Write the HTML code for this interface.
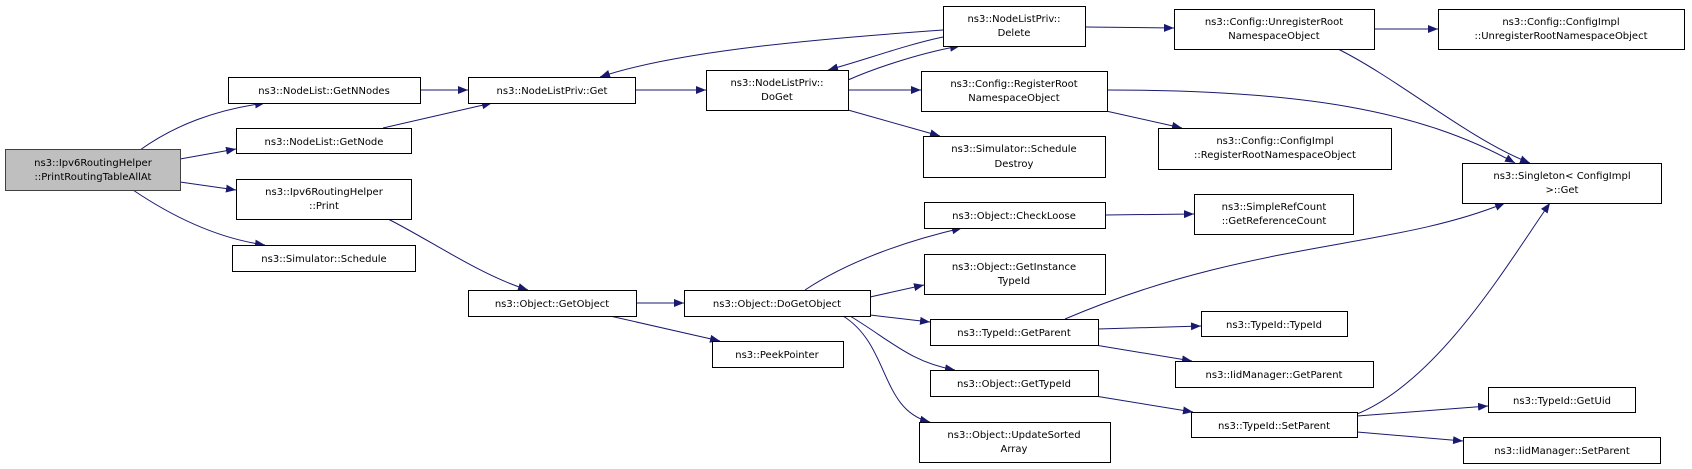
<!DOCTYPE html>
<html><head><meta charset="utf-8"><style>
html,body{margin:0;padding:0;background:#fff;width:1692px;height:469px;overflow:hidden}
svg text{font-family:"DejaVu Sans","Liberation Sans",sans-serif;font-size:10px;fill:#000;text-anchor:middle}
</style></head><body>
<svg width="1692" height="469" viewBox="0 0 1692 469" xmlns="http://www.w3.org/2000/svg">
<defs><marker id="a" markerUnits="userSpaceOnUse" markerWidth="11" markerHeight="8" refX="10" refY="4" orient="auto"><path d="M0,0 L10,4 L0,8 z" fill="#191970"/></marker></defs>
<g fill="none" stroke="#191970" stroke-width="1" marker-end="url(#a)">
<path d="M140,150 C175,125 215,110 265,103"/>
<path d="M180,159 L236,149"/>
<path d="M180,182 L236,190"/>
<path d="M133,190 C170,215 215,238 265,245"/>
<path d="M420,90 L468,90"/>
<path d="M383,128 L492,103"/>
<path d="M388,219 C430,240 480,275 528,290"/>
<path d="M635,90 L706,90"/>
<path d="M848,80 C880,66 925,52 960,46"/>
<path d="M943,37 C905,45 865,60 828,70"/>
<path d="M943,30 C830,38 680,50 600,77"/>
<path d="M848,90 L921,90"/>
<path d="M848,110 L940,136"/>
<path d="M1085,27 L1174,28"/>
<path d="M1374,29 L1438,29"/>
<path d="M1338,49 C1400,80 1470,140 1530,163"/>
<path d="M1107,90 C1300,90 1420,110 1515,163"/>
<path d="M1106,111 L1182,128"/>
<path d="M636,303 L684,303"/>
<path d="M610,316 L720,341"/>
<path d="M805,290 C850,260 910,240 962,228"/>
<path d="M870,297 L924,285"/>
<path d="M870,315 L930,322"/>
<path d="M850,316 C890,340 910,362 955,370"/>
<path d="M843,316 C890,345 880,410 930,422"/>
<path d="M1105,215 L1194,214"/>
<path d="M1065,319 C1250,240 1390,250 1505,203"/>
<path d="M1098,329 L1201,326"/>
<path d="M1095,345 L1192,361"/>
<path d="M1095,396 L1193,412"/>
<path d="M1357,414 C1440,380 1510,260 1550,203"/>
<path d="M1357,416 L1488,406"/>
<path d="M1357,432 L1463,441"/>
</g>
<g stroke="#000" stroke-width="1" fill="#fff">
<rect x="5.5" y="149.5" width="175" height="41" fill="#bfbfbf" stroke="#404040"/>
<rect x="228.5" y="77.5" width="192" height="26"/>
<rect x="236.5" y="128.5" width="175" height="25"/>
<rect x="236.5" y="179.5" width="175" height="40"/>
<rect x="232.5" y="245.5" width="183" height="26"/>
<rect x="468.5" y="77.5" width="167" height="26"/>
<rect x="706.5" y="70.5" width="142" height="40"/>
<rect x="468.5" y="290.5" width="168" height="26"/>
<rect x="684.5" y="290.5" width="186" height="26"/>
<rect x="712.5" y="341.5" width="131" height="26"/>
<rect x="943.5" y="6.5" width="142" height="40"/>
<rect x="921.5" y="71.5" width="186" height="40"/>
<rect x="923.5" y="136.5" width="182" height="41"/>
<rect x="924.5" y="202.5" width="181" height="26"/>
<rect x="924.5" y="254.5" width="181" height="40"/>
<rect x="930.5" y="319.5" width="168" height="26"/>
<rect x="930.5" y="370.5" width="168" height="26"/>
<rect x="919.5" y="422.5" width="191" height="40"/>
<rect x="1174.5" y="9.5" width="200" height="40"/>
<rect x="1158.5" y="128.5" width="233" height="41"/>
<rect x="1194.5" y="194.5" width="159" height="40"/>
<rect x="1201.5" y="311.5" width="146" height="25"/>
<rect x="1175.5" y="361.5" width="198" height="26"/>
<rect x="1191.5" y="412.5" width="166" height="25"/>
<rect x="1438.5" y="9.5" width="246" height="40"/>
<rect x="1462.5" y="163.5" width="199" height="40"/>
<rect x="1488.5" y="387.5" width="147" height="25"/>
<rect x="1463.5" y="437.5" width="197" height="26"/>
</g>
<g>
<text x="93" y="166">ns3::Ipv6RoutingHelper</text><text x="93" y="180">::PrintRoutingTableAllAt</text>
<text x="324" y="94">ns3::NodeList::GetNNodes</text>
<text x="324" y="145">ns3::NodeList::GetNode</text>
<text x="324" y="195">ns3::Ipv6RoutingHelper</text><text x="324" y="209">::Print</text>
<text x="324" y="262">ns3::Simulator::Schedule</text>
<text x="552" y="94">ns3::NodeListPriv::Get</text>
<text x="777" y="86">ns3::NodeListPriv::</text><text x="777" y="100">DoGet</text>
<text x="552" y="307">ns3::Object::GetObject</text>
<text x="777" y="307">ns3::Object::DoGetObject</text>
<text x="777" y="358">ns3::PeekPointer</text>
<text x="1014" y="22">ns3::NodeListPriv::</text><text x="1014" y="36">Delete</text>
<text x="1014" y="87">ns3::Config::RegisterRoot</text><text x="1014" y="101">NamespaceObject</text>
<text x="1014" y="152">ns3::Simulator::Schedule</text><text x="1014" y="167">Destroy</text>
<text x="1014" y="219">ns3::Object::CheckLoose</text>
<text x="1014" y="270">ns3::Object::GetInstance</text><text x="1014" y="284">TypeId</text>
<text x="1014" y="336">ns3::TypeId::GetParent</text>
<text x="1014" y="387">ns3::Object::GetTypeId</text>
<text x="1014" y="438">ns3::Object::UpdateSorted</text><text x="1014" y="452">Array</text>
<text x="1274" y="25">ns3::Config::UnregisterRoot</text><text x="1274" y="39">NamespaceObject</text>
<text x="1275" y="144">ns3::Config::ConfigImpl</text><text x="1275" y="158">::RegisterRootNamespaceObject</text>
<text x="1274" y="210">ns3::SimpleRefCount</text><text x="1274" y="224">::GetReferenceCount</text>
<text x="1274" y="328">ns3::TypeId::TypeId</text>
<text x="1274" y="378">ns3::IidManager::GetParent</text>
<text x="1274" y="429">ns3::TypeId::SetParent</text>
<text x="1561" y="25">ns3::Config::ConfigImpl</text><text x="1561" y="39">::UnregisterRootNamespaceObject</text>
<text x="1562" y="179">ns3::Singleton&lt; ConfigImpl</text><text x="1562" y="193">&gt;::Get</text>
<text x="1562" y="404">ns3::TypeId::GetUid</text>
<text x="1562" y="454">ns3::IidManager::SetParent</text>
</g>
</svg>
</body></html>
